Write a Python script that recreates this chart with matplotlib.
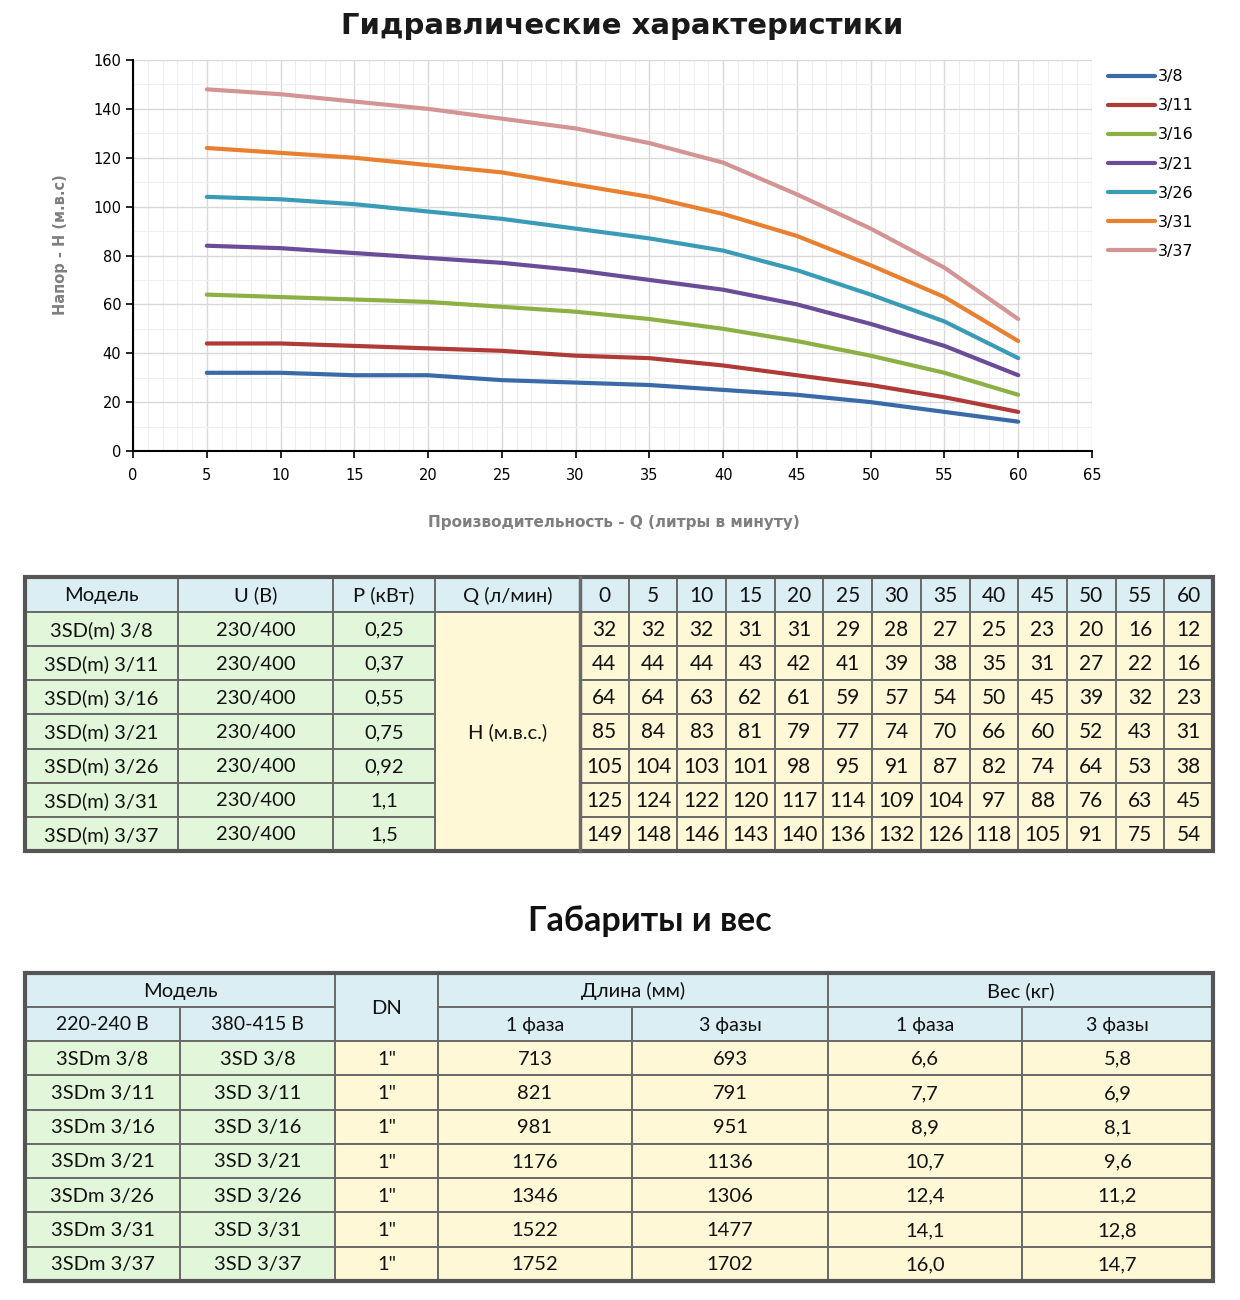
import matplotlib.pyplot as plt
import numpy as np
from matplotlib.patches import Rectangle

# ---- data: head H (m) at flow Q (l/min) for each pump model
q = [0, 5, 10, 15, 20, 25, 30, 35, 40, 45, 50, 55, 60]
series = ['3/8', '3/11', '3/16', '3/21', '3/26', '3/31', '3/37']
head_3_8 = [32, 32, 32, 31, 31, 29, 28, 27, 25, 23, 20, 16, 12]
head_3_11 = [44, 44, 44, 43, 42, 41, 39, 38, 35, 31, 27, 22, 16]
head_3_16 = [64, 64, 63, 62, 61, 59, 57, 54, 50, 45, 39, 32, 23]
head_3_21 = [85, 84, 83, 81, 79, 77, 74, 70, 66, 60, 52, 43, 31]
head_3_26 = [105, 104, 103, 101, 98, 95, 91, 87, 82, 74, 64, 53, 38]
head_3_31 = [125, 124, 122, 120, 117, 114, 109, 104, 97, 88, 76, 63, 45]
head_3_37 = [149, 148, 146, 143, 140, 136, 132, 126, 118, 105, 91, 75, 54]
heads = [head_3_8, head_3_11, head_3_16, head_3_21, head_3_26, head_3_31, head_3_37]

models = ['3SD(m) 3/8', '3SD(m) 3/11', '3SD(m) 3/16', '3SD(m) 3/21',
          '3SD(m) 3/26', '3SD(m) 3/31', '3SD(m) 3/37']
voltage = ['230/400'] * 7
power = ['0,25', '0,37', '0,55', '0,75', '0,92', '1,1', '1,5']

# dimensions & weight table
model_1ph = ['3SDm 3/8', '3SDm 3/11', '3SDm 3/16', '3SDm 3/21', '3SDm 3/26', '3SDm 3/31', '3SDm 3/37']
model_3ph = ['3SD 3/8', '3SD 3/11', '3SD 3/16', '3SD 3/21', '3SD 3/26', '3SD 3/31', '3SD 3/37']
dn = ['1"'] * 7
length_1ph = [713, 821, 981, 1176, 1346, 1522, 1752]
length_3ph = [693, 791, 951, 1136, 1306, 1477, 1702]
weight_1ph = ['6,6', '7,7', '8,9', '10,7', '12,4', '14,1', '16,0']
weight_3ph = ['5,8', '6,9', '8,1', '9,6', '11,2', '12,8', '14,7']

colors = ['#3b6aa9', '#b03a38', '#8db045', '#6b4c98', '#3a9bb6', '#e98030', '#d49494']

W, H = 1240, 1300
fig = plt.figure(figsize=(12.4, 13), dpi=100)

# table layer in pixel coordinates
tab = fig.add_axes([0, 0, 1, 1])
tab.set_xlim(0, W)
tab.set_ylim(H, 0)
tab.axis('off')

# ---- chart
ax = fig.add_axes([133 / W, 1 - 451 / H, (1092 - 133) / W, (451 - 60) / H])
for name, h, c in zip(series, heads, colors):
    ax.plot(q[1:], h[1:], color=c, lw=3, label=name, solid_capstyle='round')
ax.set_xlim(0, 65)
ax.set_ylim(0, 160)
ax.set_xticks(np.arange(0, 66, 5))
ax.set_yticks(np.arange(0, 161, 20))
ax.set_xticks(np.arange(0, 66, 1), minor=True)
ax.set_yticks(np.arange(0, 161, 10), minor=True)
ax.grid(which='major', color='#d9d9d9', lw=1)
ax.grid(which='minor', color='#efefef', lw=0.8)
ax.set_axisbelow(True)
for s in ['top', 'right']:
    ax.spines[s].set_visible(False)
for s in ['left', 'bottom']:
    ax.spines[s].set_color('black')
    ax.spines[s].set_linewidth(1.5)
ax.tick_params(which='major', length=5, width=1.2, labelsize=10.5, color='black')
ax.tick_params(which='minor', length=0)
ax.tick_params(axis='x', pad=7)

fig.text(0.502, 1 - 26 / H, 'Гидравлические характеристики', ha='center', va='center',
         fontsize=21, fontweight='bold', color='#1a1a1a')
fig.text(60 / W, 1 - 245 / H, 'Напор - H (м.в.с)', rotation=90, ha='center', va='center',
         fontsize=10.5, fontweight='bold', color='#7f7f7f')
fig.text(614 / W, 1 - 523 / H, 'Производительность - Q (литры в минуту)', ha='center', va='center',
         fontsize=11, fontweight='bold', color='#7f7f7f')
fig.legend(loc='upper left', bbox_to_anchor=(1094 / W, 1 - 55 / H), frameon=False,
           fontsize=11.5, handlelength=2.9, handletextpad=0.2, labelspacing=0.88)

# ---- tables
blue = '#daeef3'
green = '#e2f6da'
yellow = '#fff8d6'
edge = '#6a6a6a'
tfont = 'Lato'


def cell(x0, x1, y0, y1, text, fc, fs=14.5):
    tab.add_patch(Rectangle((x0, y0), x1 - x0, y1 - y0, facecolor=fc, edgecolor=edge, lw=1.4))
    if text != '':
        tab.text((x0 + x1) / 2, (y0 + y1) / 2 + 1, text, ha='center', va='center',
                 fontsize=fs, family=tfont, color='#111111')


# table 1
cols1 = [25, 178, 333, 435, 580] + list(np.linspace(580, 1213, 14)[1:])
rows1 = [577] + list(np.linspace(612, 851, 8))
heads_hdr = ['Модель', 'U (B)', 'P (кВт)', 'Q (л/мин)'] + [str(v) for v in q]
for j, txt in enumerate(heads_hdr):
    cell(cols1[j], cols1[j + 1], rows1[0], rows1[1], txt, blue, 15 if j >= 4 else 14.5)
for i in range(7):
    y0, y1 = rows1[i + 1], rows1[i + 2]
    cell(cols1[0], cols1[1], y0, y1, models[i], green)
    cell(cols1[1], cols1[2], y0, y1, voltage[i], green)
    cell(cols1[2], cols1[3], y0, y1, power[i], green)
    for j, v in enumerate(heads[i]):
        cell(cols1[4 + j], cols1[5 + j], y0, y1, str(v), yellow, 15)
cell(cols1[3], cols1[4], rows1[1], rows1[-1], 'H (м.в.с.)', yellow)
tab.plot([cols1[4], cols1[4]], [rows1[0], rows1[-1]], color=edge, lw=2.5)
tab.add_patch(Rectangle((cols1[0], rows1[0]), cols1[-1] - cols1[0], rows1[-1] - rows1[0],
                        fill=False, edgecolor='#555555', lw=3))

tab.text(650, 921, 'Габариты и вес', ha='center', va='center', fontsize=24.5,
         fontweight='bold', family=tfont, color='#111111')

# table 2
cols2 = [25, 180, 335, 438, 632, 828, 1022, 1213]
rows2 = [973, 1007] + list(np.linspace(1041, 1281, 8))
cell(cols2[0], cols2[2], rows2[0], rows2[1], 'Модель', blue)
cell(cols2[2], cols2[3], rows2[0], rows2[2], 'DN', blue)
cell(cols2[3], cols2[5], rows2[0], rows2[1], 'Длина (мм)', blue)
cell(cols2[5], cols2[7], rows2[0], rows2[1], 'Вес (кг)', blue)
sub = ['220-240 В', '380-415 В', '', '1 фаза', '3 фазы', '1 фаза', '3 фазы']
for j, txt in enumerate(sub):
    if txt:
        cell(cols2[j], cols2[j + 1], rows2[1], rows2[2], txt, blue, 14)
for i in range(7):
    y0, y1 = rows2[i + 2], rows2[i + 3]
    vals = [model_1ph[i], model_3ph[i], dn[i], str(length_1ph[i]), str(length_3ph[i]),
            weight_1ph[i], weight_3ph[i]]
    for j, txt in enumerate(vals):
        cell(cols2[j], cols2[j + 1], y0, y1, txt, green if j < 2 else yellow)
tab.add_patch(Rectangle((cols2[0], rows2[0]), cols2[-1] - cols2[0], rows2[-1] - rows2[0],
                        fill=False, edgecolor='#555555', lw=3))

fig.savefig('out.png', dpi=100)
